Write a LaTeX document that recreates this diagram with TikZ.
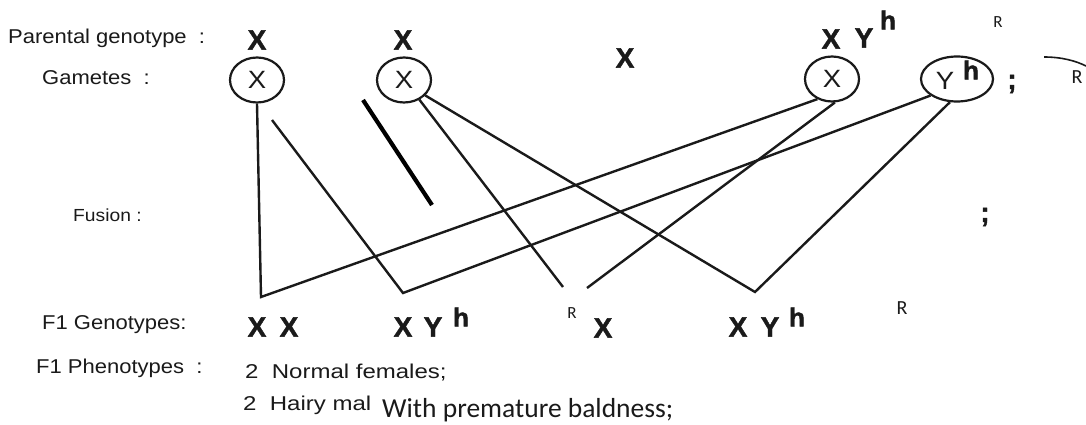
\documentclass[tikz,border=0pt]{standalone}
\usepackage{fontspec}
\setmainfont{Liberation Sans}
\newfontfamily\labf[FakeStretch=1.1]{Liberation Sans}
\newfontfamily\phef[FakeStretch=1.2]{Liberation Sans}
\newfontfamily\boldf[FakeBold=1.5]{Liberation Sans Bold}
\newfontfamily\calf{Carlito}
\usetikzlibrary{shapes.geometric}
\definecolor{ink}{HTML}{1A1A1A}
\begin{document}
\begin{tikzpicture}[x=1pt,y=-1pt,
  lab/.style={anchor=base west, inner sep=0pt, font=\labf\fontsize{20}{22}\selectfont, text=ink},
  bx/.style={inner sep=0pt, anchor=center, font=\boldf\fontsize{28}{30}\selectfont, text=ink},
  bh/.style={inner sep=0pt, anchor=center, font=\boldf\fontsize{26}{28}\selectfont, text=ink},
  rr/.style={inner sep=0pt, anchor=center, font=\calf\fontsize{#1}{#1}\selectfont, text=ink},
  gam/.style={draw=ink, line width=2.2pt, ellipse, minimum width=54pt, minimum height=45pt, inner sep=0pt,
    font=\labf\fontsize{25}{27}\selectfont, text=ink},
  link/.style={draw=ink, line width=2.4pt},
]
\fill[white] (0,0) rectangle (1086,425);
\useasboundingbox (0,0) rectangle (1086,425);

% labels
\node[lab] (lpar) at (8,44) {Parental genotype\ \ :};
\node[lab] (lgam) at (42,84.5) {Gametes\ \ :};
\node[lab, font=\labf\fontsize{17.5}{19}\selectfont] (lfus) at (73,221) {Fusion\ :};
\node[lab] (lgen) at (42,329.5) {F1 Genotypes:};
\node[lab] (lphe) at (36,373.5) {F1 Phenotypes\ \ :};
\node[lab, font=\phef\fontsize{20}{22}\selectfont] (lnor) at (245,378.5) {2\ \ Normal females;};
\node[lab, font=\phef\fontsize{20}{22}\selectfont] (lhai) at (243,410) {2\ \ Hairy mal};
\node[anchor=base west, inner sep=0pt, font=\calf\fontsize{27.5}{30}\selectfont, text=ink] (lwit) at (382,417) {With premature baldness;};

% parental genotypes
\node[bx] (p1) at (257,40) {X};
\node[bx] (p2) at (403,40) {X};
\node[bx] (pm) at (625,58) {X};
\node[bx] (p3) at (831,39) {X};
\node[bx] (p4) at (864,38) {Y};
\node[bh] (p4h) at (888,20) {h};
\node[rr=17] (rtop) at (998,22) {R};

% gametes
\node[gam] (g1) at (257,80) {X};
\node[gam] (g2) at (404,80) {X};
\node[gam] (g3) at (832,79) {X};
\node[gam, minimum width=72pt] (g4) at (957,79) {};
\node[inner sep=0pt, font=\labf\fontsize{25}{27}\selectfont, text=ink] (g4y) at (945,81) {Y};
\node[bh] (g4h) at (971,70) {h};
\node[bx] (semi1) at (1012,84) {;};
\node[bx] (semi2) at (985,217) {;};
\node[rr=20] (rright) at (1077,77) {R};
\coordinate (arcA) at (1044,57);
\coordinate (arcB) at (1086,66);
\draw[draw=ink, line width=1.6pt] (arcA) .. controls (1062,57) and (1076,61) .. (arcB);

% F1 genotypes
\node[bx] (f1a) at (257,327) {X};
\node[bx] (f1b) at (289,327) {X};
\node[bx] (f2a) at (403,327) {X};
\node[bx] (f2b) at (433,327) {Y};
\node[bh] (f2h) at (461,317) {h};
\node[rr=17] (f3r) at (572,313) {R};
\node[bx] (f3a) at (603,328) {X};
\node[bx] (f4a) at (738,327) {X};
\node[bx] (f4b) at (770,327) {Y};
\node[bh] (f4h) at (797,317) {h};
\node[rr=20] (f5r) at (902,308) {R};

% junction points
\coordinate (v1) at (261,297);
\coordinate (v2) at (403,293);
\coordinate (v3a) at (563,287);
\coordinate (v3b) at (587,288);
\coordinate (v4) at (755,292);
\coordinate (c1) at (272,120);
\coordinate (t1) at (363,100);
\coordinate (t2) at (432,205);

% connectors
\draw[link] (g1.south) -- (v1) -- (g3.234);
\draw[link] (c1) -- (v2) -- (g4.212.6);
\draw[link] (g2.308) -- (v3a);
\draw[link] (v3b) -- (g3.277);
\draw[link] (g2.324.5) -- (v4) -- (g4.253);
\draw[draw=black, line width=4.2pt] (t1) -- (t2);
\end{tikzpicture}
\end{document}
